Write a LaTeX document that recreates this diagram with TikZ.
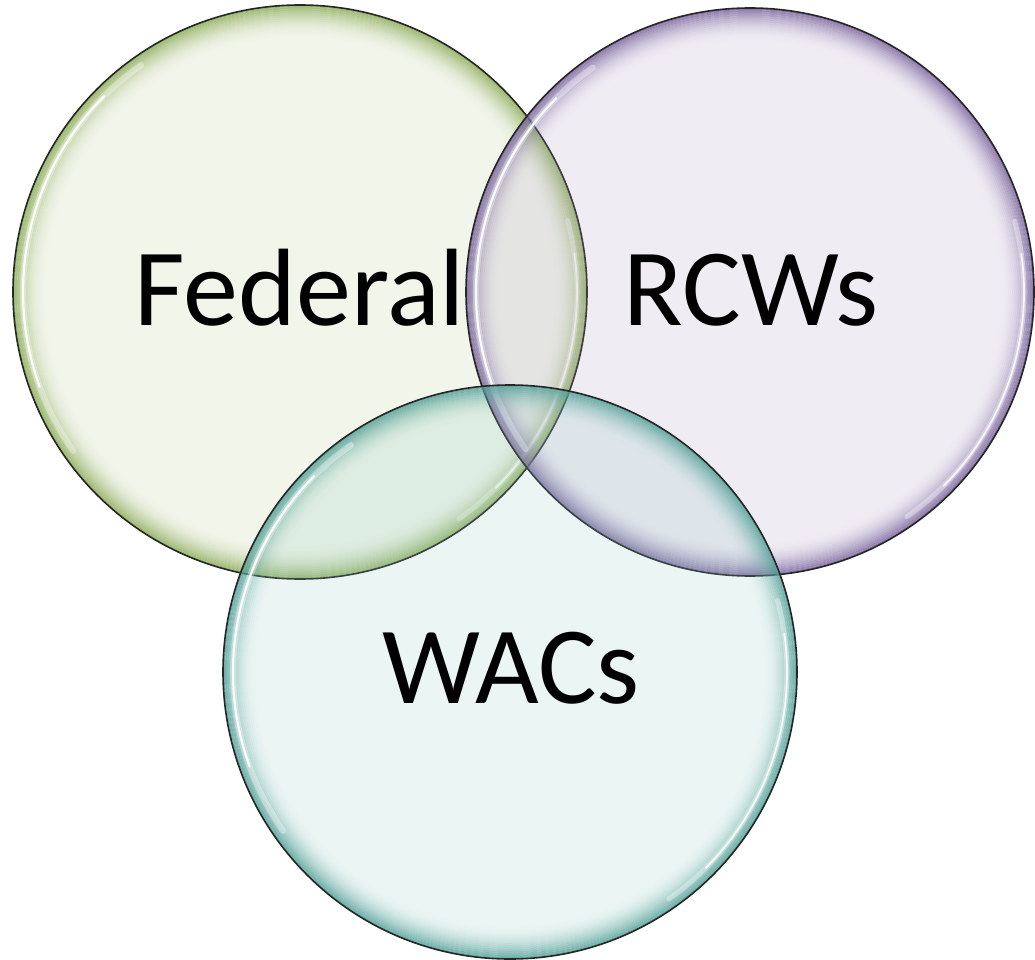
\documentclass[tikz,border=0pt]{standalone}
\usepackage{fontspec}
\setmainfont{Carlito}
\definecolor{gbase}{HTML}{B5CC90}
\definecolor{pbase}{HTML}{AE9AC4}
\definecolor{tbase}{HTML}{8CC9C3}
\definecolor{grim}{HTML}{8AAA55}
\definecolor{prim}{HTML}{76619A}
\definecolor{trim}{HTML}{4F9E94}
\newcommand\vbubble[5]{%
  \fill[#4, fill opacity=0.18] (#1,#2) circle (#3pt);
  \pgfmathsetmacro\hr{#3-10}
  \begin{scope}
    \clip (#1,#2) circle (#3pt);
    \foreach \k in {0,...,15}{%
      \pgfmathsetmacro\op{0.8*(1-\k/16)*(1-\k/16)}
      \pgfmathsetmacro\rr{#3-1-2*\k}
      \draw[#5, line width=2pt, draw opacity=\op] (#1,#2) circle (\rr pt);
    }
    \draw[white, line width=6pt, draw opacity=0.35, line cap=round] (#1,#2) ++(125:\hr pt) arc[start angle=125, end angle=215, radius=\hr pt];
    \draw[white, line width=2.2pt, draw opacity=0.9, line cap=round] (#1,#2) ++(135:\hr pt) arc[start angle=135, end angle=200, radius=\hr pt];
    \draw[white, line width=5pt, draw opacity=0.35, line cap=round] (#1,#2) ++(-55:\hr pt) arc[start angle=-55, end angle=15, radius=\hr pt];
    \draw[white, line width=1.8pt, draw opacity=0.8, line cap=round] (#1,#2) ++(-45:\hr pt) arc[start angle=-45, end angle=8, radius=\hr pt];
  \end{scope}
  \draw[black!85, line width=1.6pt] (#1,#2) circle (#3pt);
}
\begin{document}
\begin{tikzpicture}[x=1pt, y=-1pt,
  lbl/.style={font=\fontsize{110}{120}\selectfont, text=black, inner sep=0pt, anchor=base}]
\useasboundingbox (0,0) rectangle (1035,960);
\fill[white] (0,0) rectangle (1035,960);
\vbubble{300}{292}{287}{gbase}{grim}
\vbubble{750}{292}{284}{pbase}{prim}
\vbubble{510}{672}{287}{tbase}{trim}
\node[lbl] (fed) at (300,325) {Federal};
\node[lbl] (rcw) at (751,325) {RCWs};
\node[lbl] (wac) at (511,703) {WACs};
\end{tikzpicture}
\end{document}
